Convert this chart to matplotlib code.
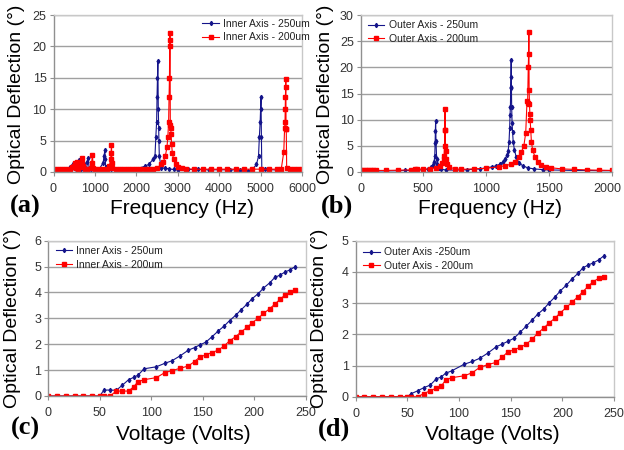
import matplotlib
matplotlib.use("Agg")
import matplotlib.pyplot as plt
from matplotlib.transforms import ScaledTranslation

# ---- panel (a): inner axis frequency sweep ----
freq_a_250 = [0, 100, 200, 300, 400, 450, 480, 500, 520, 550, 600, 620, 640, 660, 700, 740,
              760, 800, 820, 840, 860, 900, 1000, 1100, 1200, 1220, 1240, 1250, 1260, 1300,
              1400, 1600, 1800, 2000, 2200, 2300, 2400, 2450, 2470, 2490, 2500, 2510, 2520,
              2530, 2540, 2545, 2555, 2600, 2700, 2800, 2900, 3000, 3250, 3500, 3750, 4000,
              4250, 4500, 4700, 4800, 4900, 4950, 4970, 4990, 5000, 5010, 5020, 5030, 5100,
              5200, 5400]
defl_a_250 = [0.4, 0.4, 0.4, 0.45, 0.8, 1.0, 1.3, 0.6, 1.2, 0.5, 1.4, 1.9, 1.2, 0.5, 1.0, 1.2,
              0.6, 0.5, 1.6, 2.3, 0.5, 0.4, 0.4, 0.4, 1.5, 2.5, 3.5, 2.0, 0.8, 0.4,
              0.4, 0.4, 0.4, 0.5, 0.9, 1.2, 2.0, 2.5, 5.5, 8.0, 12.0, 15.0, 17.7,
              10.0, 7.0, 5.0, 2.5, 0.7, 0.6, 0.5, 0.4, 0.35, 0.4, 0.4, 0.35, 0.35,
              0.35, 0.35, 0.1, 0.4, 1.2, 2.5, 5.5, 8.0, 10.0, 11.9, 5.5, 0.4, 0.4,
              0.4, 0.3]

freq_a_200 = [0, 100, 200, 300, 400, 450, 500, 520, 540, 560, 580, 600, 660, 680, 700, 720,
              760, 800, 900, 920, 940, 960, 1000, 1100, 1200, 1300, 1350, 1380, 1390, 1400,
              1410, 1420, 1500, 1600, 1700, 1800, 1900, 2000, 2100, 2200, 2300, 2400, 2500,
              2600, 2650, 2700, 2740, 2760, 2780, 2790, 2800, 2805, 2810, 2815, 2820, 2830,
              2840, 2850, 2870, 2900, 2950, 3000, 3100, 3200, 3400, 3600, 3800, 4000, 4200,
              4400, 4600, 4800, 5000, 5200, 5400, 5500, 5560, 5580, 5590, 5595, 5600, 5605,
              5610, 5615, 5620, 5630, 5700, 5800, 5900, 6000]
defl_a_200 = [0.45, 0.45, 0.45, 0.45, 0.5, 0.8, 1.0, 1.5, 0.6, 1.6, 0.8, 0.5, 0.8, 1.5, 2.3, 0.9,
              0.5, 0.5, 0.6, 1.5, 2.7, 0.7, 0.5, 0.45, 0.45, 0.5, 1.0, 2.0, 3.0, 4.3,
              1.5, 0.7, 0.45, 0.45, 0.45, 0.45, 0.45, 0.45, 0.45, 0.45, 0.45, 0.45, 0.6,
              1.2, 1.6, 2.5, 4.0, 5.5, 8.0, 12.0, 15.0, 20.0, 22.2, 21.0, 7.5, 7.0,
              6.0, 4.5, 3.0, 2.0, 1.2, 0.8, 0.6, 0.5, 0.45, 0.45, 0.45, 0.45, 0.45,
              0.45, 0.45, 0.45, 0.45, 0.45, 0.45, 0.5, 3.2, 7.0, 8.0, 10.0, 12.0, 13.5,
              14.8, 6.9, 6.9, 0.7, 0.5, 0.5, 0.45, 0.45]

# ---- panel (b): outer axis frequency sweep ----
freq_b_250 = [0, 20, 40, 60, 80, 100, 120, 200, 300, 350, 400, 450, 500, 540, 560, 575, 585,
              590, 593, 595, 597, 600, 605, 610, 620, 640, 680, 750, 800, 850, 900, 950,
              1000, 1050, 1080, 1110, 1130, 1150, 1165, 1175, 1182, 1187, 1190, 1193, 1195,
              1197, 1199, 1201, 1203, 1206, 1210, 1215, 1225, 1240, 1260, 1290, 1330, 1380,
              1450, 1500, 1600, 1700, 1800, 1900, 2000]
defl_b_250 = [0.2, 0.2, 0.2, 0.2, 0.2, 0.2, 0.2, 0.2, 0.25, 0.3, 0.3, 0.4, 0.4, 0.6, 0.9, 1.3, 2.0,
              3.0, 5.5, 7.8, 9.7, 6.0, 2.5, 1.5, 0.8, 0.5, 0.4, 0.35, 0.4, 0.45, 0.5, 0.6,
              0.8, 1.0, 1.2, 1.5, 1.9, 2.5, 3.2, 4.0, 5.8, 8.5, 10.9, 12.5, 16.0,
              18.2, 21.4, 16.2, 12.5, 9.4, 7.7, 5.8, 4.2, 2.8, 1.8, 1.2, 0.8, 0.6,
              0.45, 0.4, 0.35, 0.3, 0.3, 0.25, 0.25]

freq_b_200 = [0, 20, 40, 60, 80, 100, 120, 200, 300, 400, 430, 450, 500, 550, 600, 630, 650,
              660, 665, 668, 670, 672, 674, 676, 680, 690, 700, 750, 800, 900, 1000, 1100,
              1150, 1200, 1230, 1260, 1280, 1300, 1315, 1325, 1330, 1335, 1338, 1340, 1342,
              1345, 1348, 1350, 1355, 1360, 1370, 1390, 1410, 1440, 1480, 1520, 1600, 1700,
              1800, 1900, 2000]
defl_b_200 = [0.3, 0.3, 0.3, 0.3, 0.3, 0.3, 0.3, 0.3, 0.35, 0.4, 0.5, 0.6, 0.5, 0.6, 0.8, 1.2, 1.8,
              2.5, 3.0, 5.0, 8.0, 12.0, 8.0, 4.0, 2.5, 1.5, 1.0, 0.6, 0.5, 0.6, 0.7, 1.0,
              1.2, 1.5, 2.0, 2.8, 3.8, 5.0, 7.5, 13.5, 13.2, 20.0, 22.5, 26.7, 15.7,
              13.0, 11.0, 10.0, 8.0, 5.8, 4.2, 2.8, 2.0, 1.4, 1.0, 0.8, 0.6, 0.5,
              0.4, 0.35, 0.3]

# ---- panels (c), (d): deflection vs voltage ----
volts = [0, 8.5, 17, 25.5, 34, 42.5, 50, 54, 60, 66, 72, 78, 83, 87, 93, 105, 113, 120, 128,
         136, 142, 147, 153, 159, 165, 171, 176, 182, 187, 193, 198, 204, 209, 215, 220, 225,
         230, 235, 240]
defl_c_250 = [0, 0, 0, 0, 0, 0, 0, 0.23, 0.23, 0.22, 0.42, 0.63, 0.72, 0.8, 1.05,
              1.13, 1.26, 1.36, 1.55, 1.77, 1.87, 1.97, 2.08, 2.29, 2.51, 2.71, 2.91, 3.12,
              3.32, 3.55, 3.76, 3.96, 4.17, 4.37, 4.58, 4.67, 4.79, 4.88, 5.0]
defl_c_200 = [0, 0, 0, 0, 0, 0, 0, 0, 0, 0.19, 0.19, 0.19, 0.36, 0.55, 0.63,
              0.71, 0.9, 0.98, 1.07, 1.16, 1.33, 1.5, 1.59, 1.68, 1.77, 1.94, 2.13, 2.29,
              2.47, 2.65, 2.83, 3.01, 3.19, 3.37, 3.55, 3.73, 3.91, 4.0, 4.08]
defl_d_250 = [0, 0, 0, 0, 0, 0, 0, 0.1, 0.19, 0.29, 0.37, 0.57, 0.64, 0.75, 0.83,
              1.04, 1.13, 1.23, 1.4, 1.6, 1.69, 1.77, 1.87, 2.06, 2.26, 2.46, 2.64, 2.81,
              3.0, 3.2, 3.39, 3.58, 3.76, 3.95, 4.13, 4.22, 4.29, 4.38, 4.51]
defl_d_200 = [0, 0, 0, 0, 0, 0, 0, 0, 0, 0.1, 0.19, 0.27, 0.35, 0.53, 0.61,
              0.67, 0.77, 0.94, 1.03, 1.1, 1.27, 1.43, 1.5, 1.58, 1.68, 1.85, 2.03, 2.2,
              2.36, 2.52, 2.69, 2.86, 3.02, 3.2, 3.37, 3.54, 3.69, 3.79, 3.85]

BLUE = "#14148a"
RED = "#ff0000"
W, H = 624, 450

plt.rcParams["font.family"] = ["Liberation Sans", "DejaVu Sans"]


def rect(left, top, right, bottom):
    return [left / W, 1 - bottom / H, (right - left) / W, (bottom - top) / H]


def style_axes(ax, xlim, xstep, ylim, ystep):
    ax.set_xlim(*xlim)
    ax.set_ylim(*ylim)
    ax.set_xticks(range(xlim[0], xlim[1] + 1, xstep))
    ax.set_yticks(range(ylim[0], ylim[1] + 1, ystep))
    ax.yaxis.grid(True, color="#a0a0a0", linewidth=1.0)
    ax.set_axisbelow(True)
    for sp in ax.spines.values():
        sp.set_color("#c8c8c8")
        sp.set_linewidth(1.0)
    ax.spines["left"].set_color("#909090")
    ax.spines["bottom"].set_color("#909090")
    ax.tick_params(axis="both", colors="#909090", labelcolor="#333333",
                   labelsize=9, length=3, width=0.8)
    ax.tick_params(axis="x", pad=5)
    ax.tick_params(axis="y", pad=2)


def draw(ax, x1, y1, x2, y2, labels, anchor):
    ax.plot(x1, y1, color=BLUE, lw=0.8, marker="d", ms=2.2, mec=BLUE, mfc=BLUE,
            label=labels[0])
    ax.plot(x2, y2, color=RED, lw=0.8, marker="s", ms=2.2, mec=RED, mfc=RED,
            label=labels[1])
    leg = ax.legend(loc="upper left", bbox_to_anchor=anchor, frameon=False,
                    fontsize=7.5, handlelength=1.6, handletextpad=0.4,
                    labelspacing=0.35, borderpad=0.2, borderaxespad=0)
    for t in leg.get_texts():
        t.set_color("#222222")


fig = plt.figure(figsize=(6.24, 4.5), dpi=100)

ax_a = fig.add_axes(rect(53.5, 15, 302, 172))
draw(ax_a, freq_a_250, defl_a_250, freq_a_200, defl_a_200,
     ["Inner Axis - 250um", "Inner Axis - 200um"], (0.59, 0.99))
style_axes(ax_a, (0, 6000), 1000, (0, 25), 5)

ax_b = fig.add_axes(rect(360.7, 15, 611.7, 172))
draw(ax_b, freq_b_250, defl_b_250, freq_b_200, defl_b_200,
     ["Outer Axis - 250um", "Outer Axis - 200um"], (0.02, 0.98))
style_axes(ax_b, (0, 2000), 500, (0, 30), 5)
# last tick label sits at the figure edge, nudge it left a little
last = ax_b.get_xticklabels()[-1]
last.set_transform(last.get_transform() + ScaledTranslation(-4 / 100, 0, fig.dpi_scale_trans))

ax_c = fig.add_axes(rect(48.3, 240.7, 305.7, 396))
draw(ax_c, volts, defl_c_250, volts, defl_c_200,
     ["Inner Axis - 250um", "Inner Axis - 200um"], (0.02, 0.98))
style_axes(ax_c, (0, 250), 50, (0, 6), 1)

ax_d = fig.add_axes(rect(355.7, 240.7, 614, 396.7))
draw(ax_d, volts, defl_d_250, volts, defl_d_200,
     ["Outer Axis -250um", "Outer Axis - 200um"], (0.02, 0.97))
style_axes(ax_d, (0, 250), 50, (0, 5), 1)

# axis titles and panel letters placed in figure pixels
ylab = "Optical Deflection (\u00b0)"
for x, y in [(17, 94), (326, 94), (13, 318), (320, 318)]:
    fig.text(x / W, 1 - y / H, ylab, rotation=90, ha="center", va="center",
             fontsize=14)
for x, y, s in [(182, 209, "Frequency (Hz)"), (490, 209, "Frequency (Hz)"),
                (183, 434, "Voltage (Volts)"), (492, 434, "Voltage (Volts)")]:
    fig.text(x / W, 1 - y / H, s, ha="center", va="center", fontsize=15)
for x, y, s in [(25, 206, "(a)"), (337, 206, "(b)"), (25, 428, "(c)"), (334, 429, "(d)")]:
    fig.text(x / W, 1 - y / H, s, ha="center", va="center", fontsize=19,
             fontweight="bold", family=["Liberation Serif", "DejaVu Serif"])

fig.savefig("out.png", dpi=100)
